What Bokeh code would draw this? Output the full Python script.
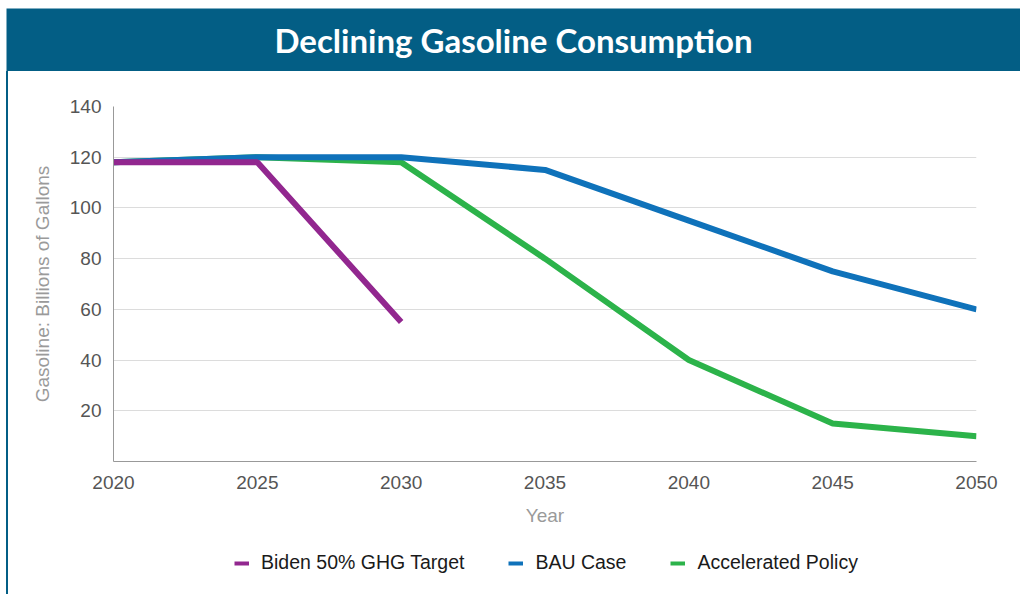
from bokeh.plotting import figure
from bokeh.models import (Label, Legend, LegendItem, FixedTicker, Div, Range1d)
from bokeh.layouts import column, row
from bokeh.embed import file_html
from bokeh.resources import INLINE

# ---- data ----
title_text = "Declining Gasoline Consumption"
years_biden = [2020, 2025, 2030]
biden = [118, 118, 55]
years = [2020, 2025, 2030, 2035, 2040, 2045, 2050]
bau = [118, 120, 120, 115, 95, 75, 60]
accel = [118, 120, 118, 80, 40, 15, 10]
x_ticks = [2020, 2025, 2030, 2035, 2040, 2045, 2050]
y_ticks = [20, 40, 60, 80, 100, 120, 140]
series_names = ["Biden 50% GHG Target", "BAU Case", "Accelerated Policy"]

HEADER = "#035e85"
PURPLE = "#92278f"
BLUE = "#0f72ba"
GREEN = "#2cb34a"
FONT = "Liberation Sans"
LW = 6

# ---- header (frame = coloured band, white borders give the offset) ----
hdr = figure(width=1020, height=71, x_range=Range1d(0, 1), y_range=Range1d(0, 1),
             x_axis_type=None, y_axis_type=None, toolbar_location=None,
             output_backend="svg", min_border_top=8, min_border_left=6,
             min_border_right=0, min_border_bottom=0)
hdr.background_fill_color = HEADER
hdr.border_fill_color = "white"
hdr.outline_line_color = None
hdr.grid.visible = False
hdr.add_layout(Label(x=0.5, y=0.5, text=title_text, text_align="center",
                     text_baseline="middle", text_color="white",
                     text_font="Lato", text_font_style="bold",
                     text_font_size="33px"))

# ---- main plot ----
p = figure(width=1012, height=463, x_range=Range1d(2020, 2050), y_range=Range1d(0, 140),
           toolbar_location=None, output_backend="svg",
           min_border_left=105, min_border_right=44, min_border_top=35,
           min_border_bottom=73)
p.outline_line_color = None
p.background_fill_color = "white"
p.border_fill_color = "white"

r_green = p.line(years, accel, line_color=GREEN, line_width=LW)
r_blue = p.line(years, bau, line_color=BLUE, line_width=LW)
r_purple = p.line(years_biden, biden, line_color=PURPLE, line_width=LW)

p.xaxis.ticker = FixedTicker(ticks=x_ticks)
p.yaxis.ticker = FixedTicker(ticks=y_ticks)
p.xgrid.visible = False
p.ygrid.grid_line_color = "#dcdcdc"
p.ygrid.grid_line_width = 1

for ax in (p.xaxis[0], p.yaxis[0]):
    ax.major_tick_line_color = None
    ax.minor_tick_line_color = None
    ax.major_tick_out = 0
    ax.major_tick_in = 0
    ax.axis_line_color = "#999999"
    ax.major_label_text_font = FONT
    ax.major_label_text_font_size = "19px"
    ax.major_label_text_color = "#555555"
    ax.axis_label_text_font = FONT
    ax.axis_label_text_font_size = "19px"
    ax.axis_label_text_color = "#9a9a9a"
    ax.axis_label_text_font_style = "normal"

p.xaxis.axis_label = "Year"
p.yaxis.axis_label = "Gasoline: Billions of Gallons"
p.xaxis.major_label_standoff = 14
p.xaxis.axis_label_standoff = 13
p.yaxis.major_label_standoff = 12
p.yaxis.axis_label_standoff = 14

# ---- legend strip (own small figure so the legend is not clipped) ----
# the strip's frame is aligned with the main frame; its ranges keep these
# legend-carrier lines out of view, only their legend glyphs show
lg = figure(width=1012, height=60, x_range=Range1d(0, 1), y_range=Range1d(0, 1),
            x_axis_type=None, y_axis_type=None, toolbar_location=None,
            output_backend="svg", min_border=0)
lg.outline_line_color = None
lg.grid.visible = False
lg_purple = lg.line(years_biden, biden, line_color=PURPLE, line_width=4)
lg_blue = lg.line(years, bau, line_color=BLUE, line_width=4)
lg_green = lg.line(years, accel, line_color=GREEN, line_width=4)
legend = Legend(items=[LegendItem(label=series_names[0], renderers=[lg_purple]),
                       LegendItem(label=series_names[1], renderers=[lg_blue]),
                       LegendItem(label=series_names[2], renderers=[lg_green])],
                location=(121, 20), orientation="horizontal",
                padding=0, margin=0, spacing=44, glyph_width=15, glyph_height=20,
                label_standoff=12, label_text_font=FONT, label_text_font_size="19.5px",
                label_text_color="#1a1a1a", border_line_color=None,
                background_fill_alpha=0)
lg.add_layout(legend, "center")

edge = Div(width=8, height=523, margin=0,
           styles={"background": "linear-gradient(to right, white 6px, %s 6px)" % HEADER})
layout = column(hdr, row(edge, column(p, lg, spacing=0), spacing=0), spacing=0)

open("out.html", "w").write(file_html(layout, INLINE))
